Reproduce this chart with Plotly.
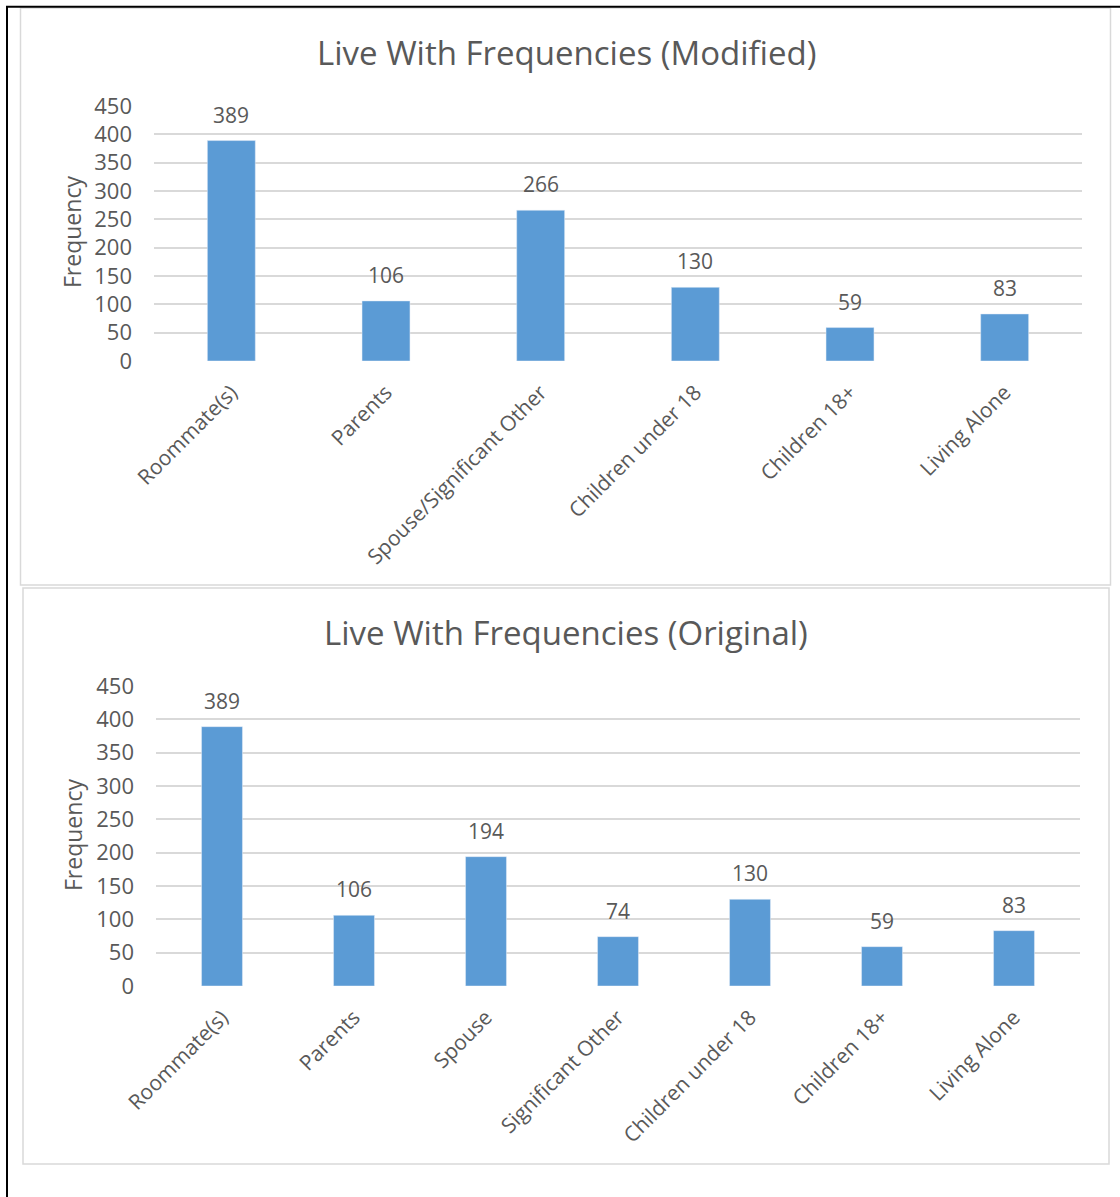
import plotly.graph_objects as go

# Living-arrangement counts, modified grouping (spouse + significant other combined)
mod_categories = ["Roommate(s)", "Parents", "Spouse/Significant Other",
                  "Children under 18", "Children 18+", "Living Alone"]
mod_values = [389, 106, 266, 130, 59, 83]

# Original grouping
orig_categories = ["Roommate(s)", "Parents", "Spouse", "Significant Other",
                   "Children under 18", "Children 18+", "Living Alone"]
orig_values = [389, 106, 194, 74, 130, 59, 83]

y_ticks = [0, 50, 100, 150, 200, 250, 300, 350, 400, 450]

W, H = 1120, 1197
FONT = "Open Sans"
TXT = "#595959"
GRID = "#d9d9d9"
BAR = "#5b9bd5"


def px_x(v):
    return v / W


def px_y(v):
    return 1 - v / H


fig = go.Figure()
fig.add_trace(go.Bar(x=mod_categories, y=mod_values, marker_color=BAR,
                     xaxis="x", yaxis="y", showlegend=False))
fig.add_trace(go.Bar(x=orig_categories, y=orig_values, marker_color=BAR,
                     xaxis="x2", yaxis="y2", showlegend=False))

axis_common = dict(showline=False, zeroline=False, ticks="", automargin=False)
yaxis_common = dict(
    range=[0, 450], tickvals=y_ticks, showgrid=True, gridcolor=GRID,
    gridwidth=1.5, ticklabelstandoff=21,
    tickfont=dict(family=FONT, size=22, color=TXT), **axis_common,
)
xaxis_common = dict(
    tickangle=-45, showgrid=False, ticklabelstandoff=14,
    tickfont=dict(family=FONT, size=21, color=TXT), **axis_common,
)

fig.update_layout(
    width=W, height=H,
    margin=dict(l=0, r=0, t=0, b=0),
    paper_bgcolor="white", plot_bgcolor="white",
    bargap=0.69,
    xaxis=dict(domain=[px_x(154), px_x(1082)], anchor="y", **xaxis_common),
    yaxis=dict(domain=[px_y(361), px_y(106)], anchor="x", **yaxis_common),
    xaxis2=dict(domain=[px_x(156), px_x(1080)], anchor="y2", **xaxis_common),
    yaxis2=dict(domain=[px_y(986), px_y(686)], anchor="x2", **yaxis_common),
)

annotations = []
# value labels above each bar
for cats, vals, xr, yr in [(mod_categories, mod_values, "x", "y"),
                           (orig_categories, orig_values, "x2", "y2")]:
    for c, v in zip(cats, vals):
        annotations.append(dict(
            x=c, y=v, xref=xr, yref=yr, text=str(v), showarrow=False,
            yanchor="bottom", yshift=10,
            font=dict(family=FONT, size=21, color=TXT)))

# chart titles
for text, yc in [("Live With Frequencies (Modified)", 52),
                 ("Live With Frequencies (Original)", 632)]:
    annotations.append(dict(
        x=px_x(566), y=px_y(yc), xref="paper", yref="paper", text=text,
        showarrow=False, xanchor="center", yanchor="middle",
        font=dict(family=FONT, size=33, color=TXT)))

# y-axis titles
for xc, yc in [(72, 232), (73, 835)]:
    annotations.append(dict(
        x=px_x(xc), y=px_y(yc), xref="paper", yref="paper", text="Frequency",
        showarrow=False, textangle=-90, xanchor="center", yanchor="middle",
        font=dict(family=FONT, size=23, color=TXT)))

fig.update_layout(annotations=annotations)

shapes = [
    # chart frames
    dict(type="rect", xref="paper", yref="paper",
         x0=px_x(20.5), x1=px_x(1110.5), y0=px_y(585), y1=px_y(8),
         line=dict(color=GRID, width=1.5)),
    dict(type="rect", xref="paper", yref="paper",
         x0=px_x(23), x1=px_x(1109), y0=px_y(1164), y1=px_y(588),
         line=dict(color=GRID, width=1.5)),
    # outer page rules
    dict(type="line", xref="paper", yref="paper",
         x0=px_x(6), x1=px_x(1120), y0=px_y(6.8), y1=px_y(6.8),
         line=dict(color="black", width=2)),
    dict(type="line", xref="paper", yref="paper",
         x0=px_x(7), x1=px_x(7), y0=px_y(6), y1=px_y(1197),
         line=dict(color="black", width=2)),
]
fig.update_layout(shapes=shapes)

fig.write_html("out.html")
